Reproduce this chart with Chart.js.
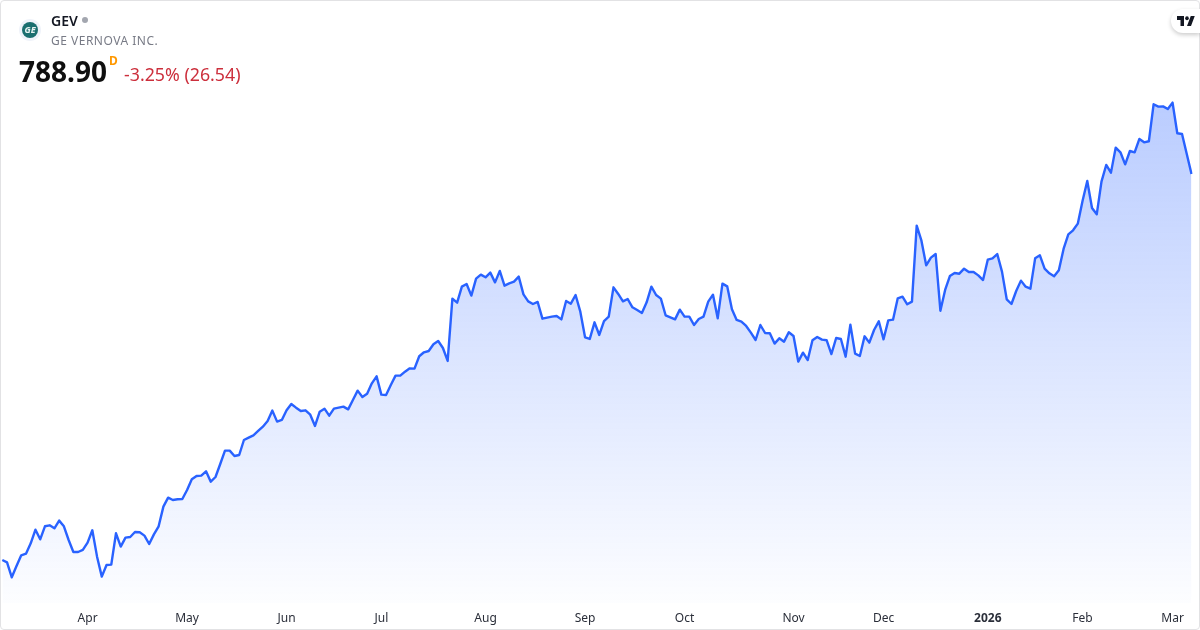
<!DOCTYPE html>
<html>
<head>
<meta charset="utf-8">
<script src="https://cdn.jsdelivr.net/npm/chart.js@4"></script>
<style>
html,body{margin:0;padding:0;background:#fff;width:1200px;height:630px;overflow:hidden;font-family:"Noto Sans",sans-serif}
#wrap{position:relative;width:1200px;height:630px}
canvas{position:absolute;left:0;top:0}
.t{position:absolute;white-space:nowrap;line-height:1}
#frame{position:absolute;left:0;top:0;width:1198px;height:628px;border:1px solid #e2e2e4;border-radius:4px;pointer-events:none}
</style>
</head>
<body>
<div id="wrap">
<canvas id="c" width="1200" height="630"></canvas>
<div id="frame"></div>
<svg class="t" style="left:19px;top:19px" width="22" height="22" viewBox="0 0 22 22">
<circle cx="11" cy="11" r="11" fill="#f0f3fa"/><circle cx="11" cy="11" r="8" fill="#1b6f70"/>
<text x="11" y="14" text-anchor="middle" font-size="9" font-style="italic" font-weight="700" fill="#e8f3f3" font-family="Noto Sans">GE</text>
</svg>
<div class="t" style="left:51px;top:14px;font-size:14px;font-weight:600;color:#131722">GEV</div>
<svg class="t" style="left:81px;top:16px" width="8" height="8"><circle cx="4" cy="4" r="3" fill="#a3a6af"/></svg>
<div class="t" style="left:51px;top:35px;font-size:12px;color:#787b86;letter-spacing:.5px">GE VERNOVA INC.</div>
<div class="t" style="left:19px;top:57px;font-size:28px;font-weight:700;color:#0f0f0f">788.90</div>
<div class="t" style="left:109px;top:55px;font-size:12px;font-weight:700;color:#ff9800">D</div>
<div class="t" style="left:124px;top:66px;font-size:17.8px;color:#cc2f3c">-3.25% (26.54)</div>
<div class="t" style="left:1171px;top:9px;width:29px;height:24px;background:#fff;border-radius:12px 0 0 12px;box-shadow:0 2px 4px rgba(0,0,0,.2)"></div>
<svg class="t" style="left:1177px;top:16px" width="18" height="10" viewBox="0 0 36 18" preserveAspectRatio="none">
<path d="M14 18H7V7H0V0h14v18zM28 18h-8L27.5 0h8L28 18z" fill="#131722"/><circle cx="20" cy="4" r="3.6" fill="#131722"/>
</svg>
</div>
<script>
const tickIndex  = [18,39,60,80,102,123,144,167,186,208,228,247];
const tickLabels = ["Apr","May","Jun","Jul","Aug","Sep","Oct","Nov","Dec","2026","Feb","Mar"];
const prices = [
276.7,273.6,253.7,268.7,282.9,285.1,298.8,316.9,304.1,321.4,
322.7,318.7,328.9,321.4,303.2,287.3,287.3,290.0,299.7,316.1,
281.1,254.6,270.1,270.5,312.1,294.4,306.3,307.2,313.8,313.4,
309.0,297.9,310.7,321.4,347.5,359.4,356.3,357.2,357.6,369.6,
383.7,388.2,388.6,394.3,380.6,386.8,404.1,421.8,421.8,414.7,
416.0,435.9,439.0,442.1,447.9,453.6,461.1,474.9,460.3,462.5,
475.3,483.7,478.8,474.4,475.3,469.5,454.5,473.5,477.5,468.2,
477.5,478.8,480.2,476.6,489.0,501.4,493.0,497.4,511.1,520.4,
496.1,495.6,508.9,521.3,521.3,526.6,531.0,530.6,547.0,552.3,
554.0,562.9,567.3,558.0,540.8,623.5,618.2,639.4,642.9,627.5,
650.0,655.3,651.8,658.0,645.1,660.2,640.7,643.8,646.0,652.7,
629.2,619.9,616.4,619.1,596.9,598.3,599.6,600.5,596.0,620.4,
616.8,628.3,606.2,572.2,570.0,592.1,575.3,593.8,599.6,638.5,
629.7,619.9,623.0,612.0,608.4,604.5,618.6,639.4,628.3,623.5,
601.4,598.7,596.0,608.9,599.6,599.6,588.5,596.5,599.6,619.5,
628.8,597.4,643.4,639.8,609.3,595.2,593.0,587.2,578.4,568.6,
588.5,577.9,577.5,563.8,570.8,566.4,578.8,573.9,539.9,551.8,
542.1,568.2,572.6,569.1,568.2,550.0,571.3,569.9,546.5,589.0,
550.5,547.4,573.5,565.1,581.9,593.4,569.5,594.7,595.6,623.9,
626.1,616.0,619.5,720.3,700.4,667.7,677.9,682.7,607.5,635.0,
653.5,657.5,656.6,663.3,658.9,658.9,654.4,648.2,675.2,677.0,
682.7,659.3,622.6,616.4,633.6,647.4,639.4,636.7,677.0,681.0,
663.3,657.1,653.1,661.1,689.4,708.8,714.2,723.0,753.1,779.6,
743.8,735.4,778.7,800.9,790.7,823.9,817.7,801.7,819.4,817.7,
835.4,830.9,832.3,881.4,878.3,878.7,875.2,883.6,842.9,842.0,
815.4,788.9
];
const yMin = 219.6, yMax = 1019.8;

new Chart(document.getElementById('c'), {
  type: 'line',
  data: {
    labels: prices.map((_, i) => i),
    datasets: [{
      data: prices,
      borderColor: '#2962ff',
      borderWidth: 2.4,
      pointRadius: 0,
      tension: 0,
      fill: 'start',
      borderJoinStyle: 'round',
      backgroundColor: (ctx) => {
        const g = ctx.chart.ctx.createLinearGradient(0, 104, 0, 603);
        g.addColorStop(0, 'rgba(41,98,255,0.32)');
        g.addColorStop(1, 'rgba(41,98,255,0.012)');
        return g;
      }
    }]
  },
  options: {
    responsive: false,
    devicePixelRatio: 1,
    animation: false,
    layout: { autoPadding: false, padding: { left: 2.3, right: 8.5, top: 0, bottom: 0 } },
    plugins: { legend: { display: false }, tooltip: { enabled: false } },
    scales: {
      y: { display: false, min: yMin, max: yMax, grid: { drawTicks: false, tickLength: 0 }, afterFit: (s) => { s.width = 0; } },
      x: {
        grid: { display: false, drawTicks: false, tickLength: 0 },
        border: { display: false },
        afterFit: (s) => { s.height = 27; s.paddingLeft = 0; s.paddingRight = 0; },
        ticks: {
          autoSkip: false,
          maxRotation: 0,
          padding: 8,
          color: '#2a2e39',
          font: (c) => ({
            family: '"Noto Sans"',
            size: 12,
            weight: tickIndex[9] === c.index ? '700' : '400'
          }),
          callback: (v) => {
            const k = tickIndex.indexOf(v);
            return k >= 0 ? tickLabels[k] : '';
          }
        }
      }
    }
  }
});
</script>
</body>
</html>
